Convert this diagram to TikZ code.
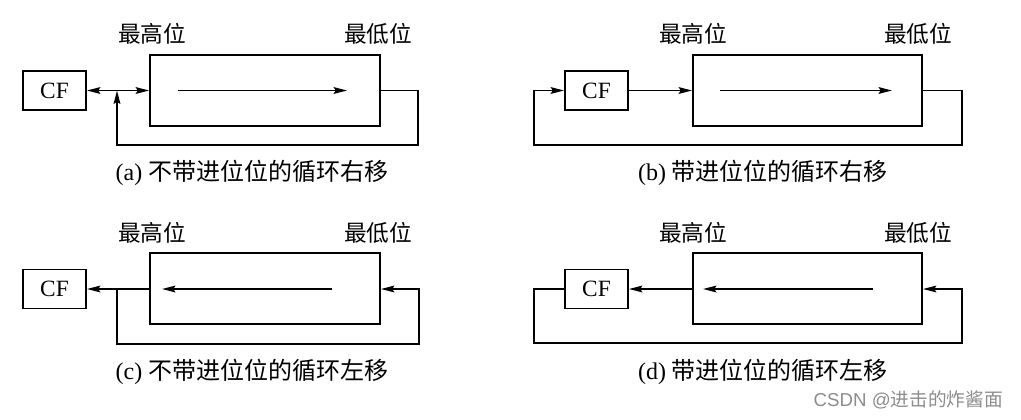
\documentclass[tikz,border=0pt]{standalone}
\usepackage{fontspec}
\setmainfont{Liberation Serif}
\newfontfamily\cjk{Noto Sans CJK SC}
\usetikzlibrary{arrows.meta,calc}

\tikzset{
  wire/.style={line width=1.4pt},
  tip/.tip={Stealth[length=10pt,width=5pt,inset=1.5pt]},
  arr/.style={wire,-tip},
  dbl/.style={wire,tip-tip},
  cfbox/.style={draw,line width=1.4pt,minimum width=47.25pt,minimum height=29.25pt,inner sep=0pt,
    font=\fontsize{17.5}{19}\selectfont},
  regbox/.style={draw,line width=1.4pt,minimum height=53.25pt,inner sep=0pt},
  bitlbl/.style={font=\cjk\fontsize{17}{19}\selectfont,inner sep=0pt},
  caption/.style={font=\fontsize{18}{20}\selectfont,inner sep=0pt}
}

\begin{document}
\begin{tikzpicture}[x=0.75pt,y=-0.75pt]
\useasboundingbox (0,0) rectangle (1021,419);

% ---------- (a) rotate right without carry ----------
\node[cfbox] (cfa) at (54.5,90.5) {CF};
\node[regbox,minimum width=172.5pt] (ra) at (265,90.5) {};
\node[bitlbl] (hia) at (152,34) {最高位};
\node[bitlbl] (loa) at (378,34) {最低位};
\coordinate (sa1) at (178,90.5);
\coordinate (sa2) at (347,90.5);
\draw[arr] (sa1) -- (sa2);
\draw[dbl] (cfa) -- (ra);
\coordinate (pa1) at (418,90.5);
\coordinate (pa2) at (418,145);
\coordinate (pa3) at (117,145);
\coordinate (pa4) at (117,90.5);
\draw[arr] (ra.east) -- (pa1) -- (pa2) -- (pa3) -- (pa4);
\node[caption] (capa) at (252,173) {(a) {\cjk 不带进位位的循环右移}};

% ---------- (b) rotate right through carry ----------
\node[cfbox] (cfb) at (596.5,90.5) {CF};
\node[regbox,minimum width=171.75pt] (rb) at (807.5,90.5) {};
\node[bitlbl] (hib) at (693,34) {最高位};
\node[bitlbl] (lob) at (918,34) {最低位};
\coordinate (sb1) at (720,90.5);
\coordinate (sb2) at (892,90.5);
\draw[arr] (sb1) -- (sb2);
\draw[arr] (cfb) -- (rb);
\coordinate (pb1) at (962,90.5);
\coordinate (pb2) at (962,145);
\coordinate (pb3) at (534,145);
\coordinate (pb4) at (534,90.5);
\draw[arr] (rb.east) -- (pb1) -- (pb2) -- (pb3) -- (pb4) -- (cfb.west);
\node[caption] (capb) at (763,173) {(b) {\cjk 带进位位的循环右移}};

% ---------- (c) rotate left without carry ----------
\node[cfbox] (cfc) at (54.5,289) {CF};
\node[regbox,minimum width=172.5pt] (rc) at (265,288.5) {};
\node[bitlbl] (hic) at (152,233) {最高位};
\node[bitlbl] (loc) at (378,233) {最低位};
\coordinate (sc1) at (332,289);
\coordinate (sc2) at (162,289);
\draw[arr] (sc1) -- (sc2);
\draw[arr] (rc.west |- cfc) -- (cfc.east);
\coordinate (pc0) at (117,289);
\coordinate (pc1) at (117,344);
\coordinate (pc2) at (419,344);
\coordinate (pc3) at (419,289);
\draw[arr] (pc0) -- (pc1) -- (pc2) -- (pc3) -- (rc.east |- cfc);
\node[caption] (capc) at (252,372) {(c) {\cjk 不带进位位的循环左移}};

% ---------- (d) rotate left through carry ----------
\node[cfbox] (cfd) at (596.5,289) {CF};
\node[regbox,minimum width=171.75pt] (rd) at (807.5,288.5) {};
\node[bitlbl] (hid) at (693,233) {最高位};
\node[bitlbl] (lod) at (918,233) {最低位};
\coordinate (sd1) at (873,289);
\coordinate (sd2) at (703,289);
\draw[arr] (sd1) -- (sd2);
\draw[arr] (rd.west |- cfd) -- (cfd.east);
\coordinate (pd1) at (534,289);
\coordinate (pd2) at (534,343);
\coordinate (pd3) at (962,343);
\coordinate (pd4) at (962,289);
\draw[arr] (cfd.west) -- (pd1) -- (pd2) -- (pd3) -- (pd4) -- (rd.east |- cfd);
\node[caption] (capd) at (763,372) {(d) {\cjk 带进位位的循环左移}};

% ---------- watermark ----------
\node[font=\fontspec{Liberation Sans}\fontsize{14}{16}\selectfont,text=black!45,anchor=east,inner sep=0pt]
  (wm) at (1003,400) {CSDN @{\cjk 进击的炸酱面}};
\end{tikzpicture}
\end{document}
